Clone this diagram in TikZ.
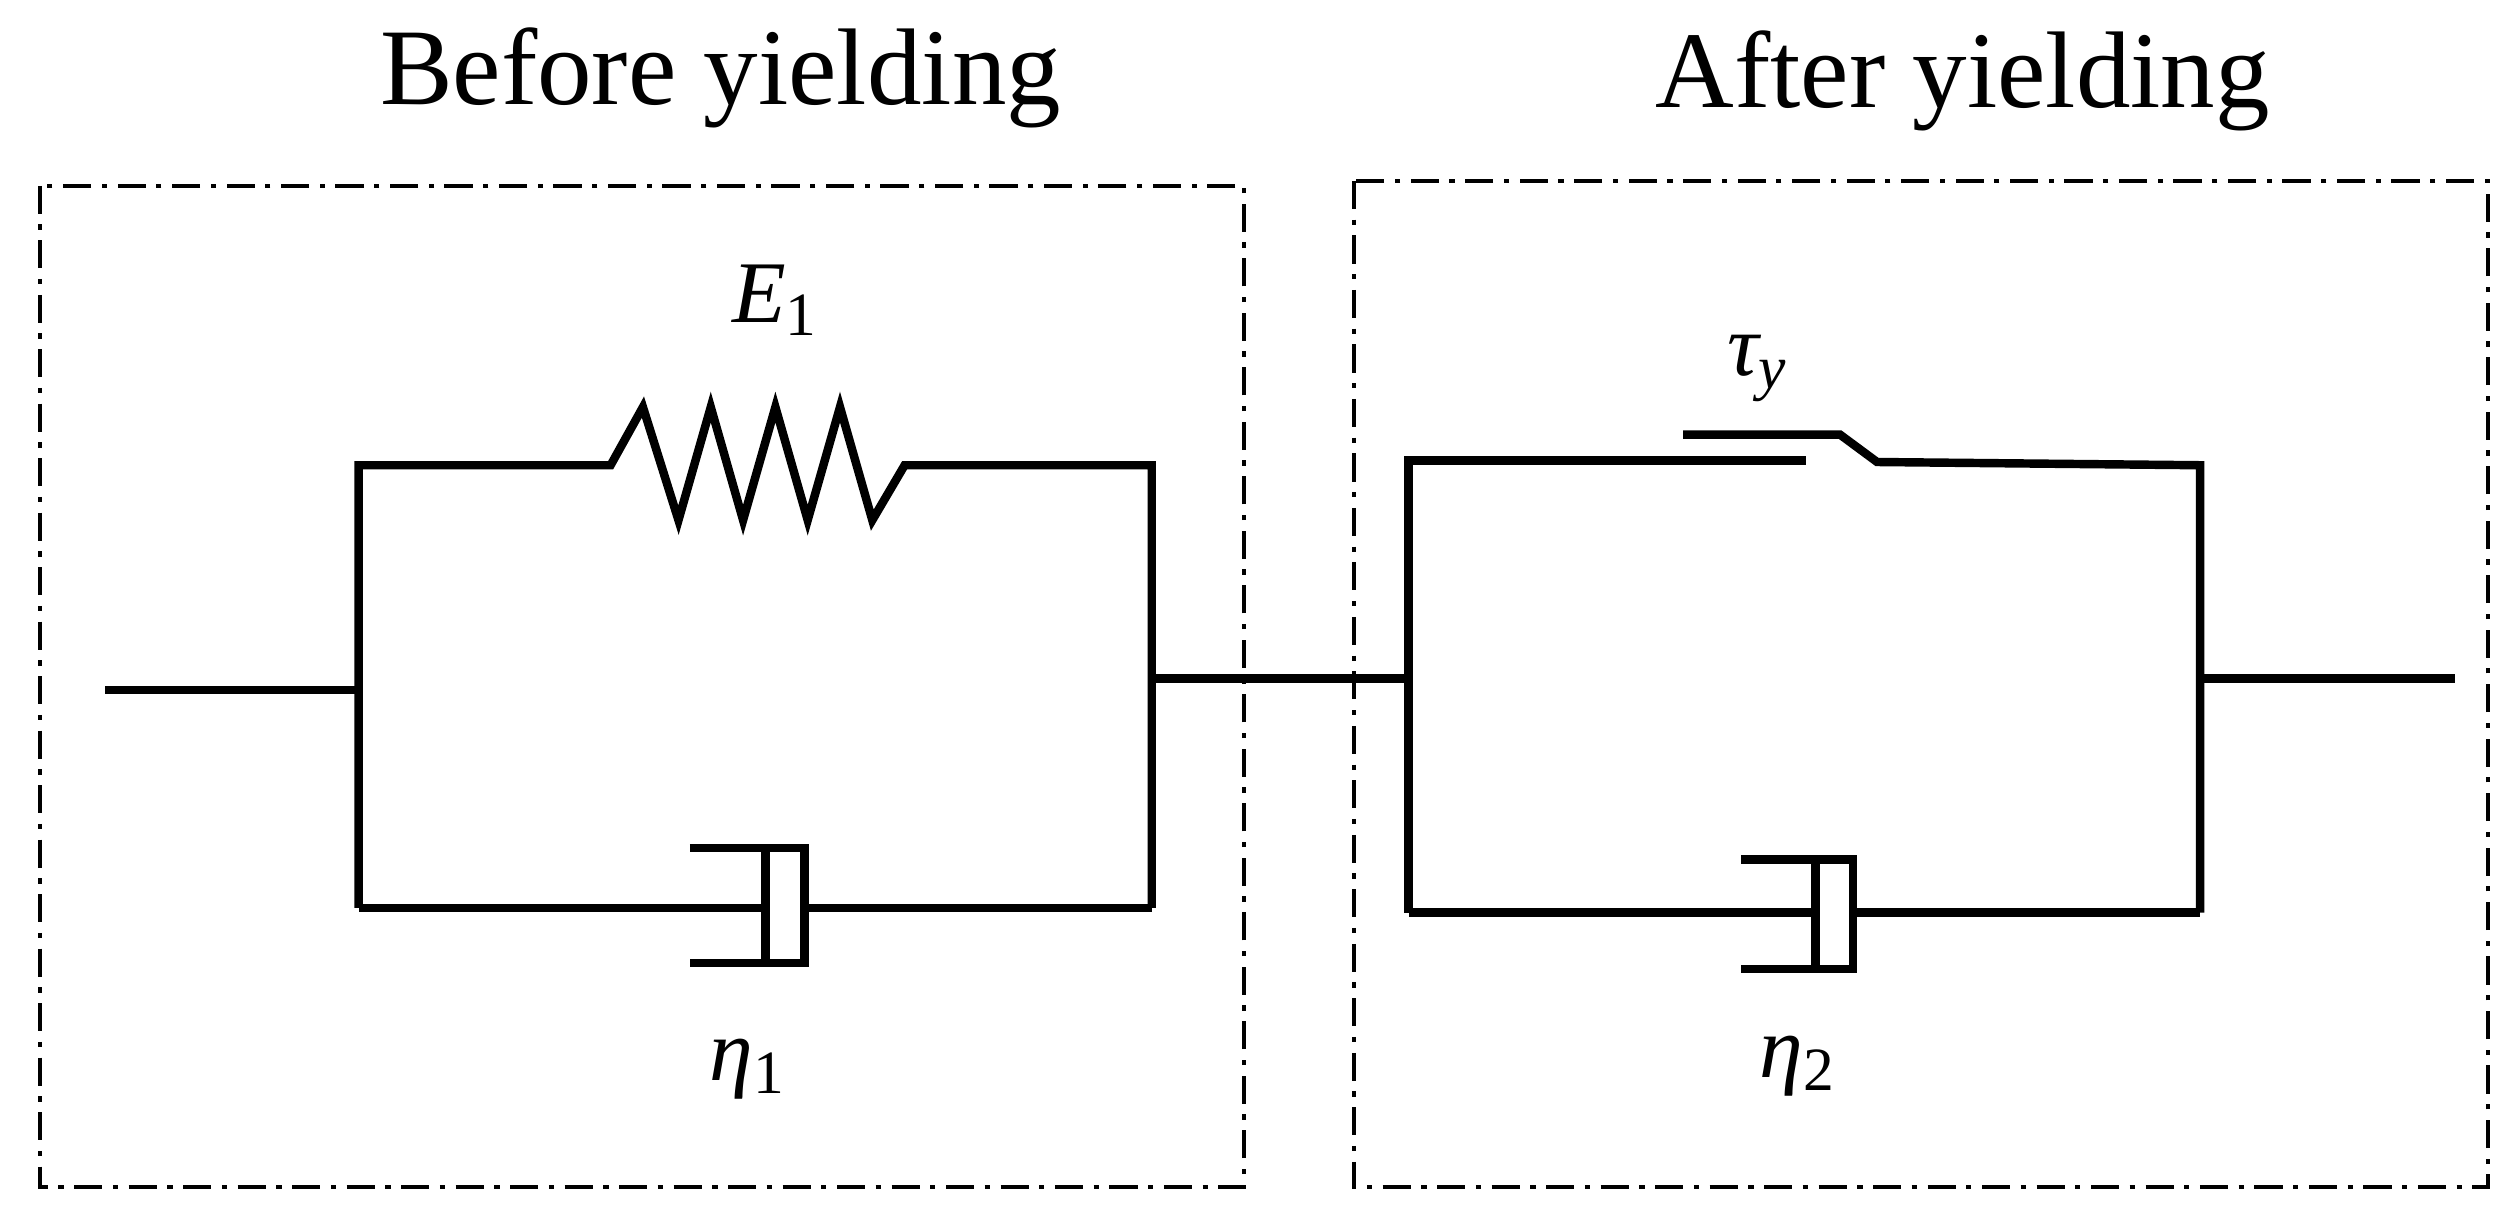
\documentclass[tikz,border=0pt]{standalone}
\usepackage{fontspec}
\setmainfont{Liberation Serif}
\usetikzlibrary{positioning, calc}

\begin{document}
\begin{tikzpicture}[x=0.1615mm, y=-0.1615mm, wire/.style={line width=2.4pt}, box/.style={line width=1.2pt, dash pattern=on 8pt off 3pt on 1.5pt off 3pt}, title/.style={font=\fontsize{31}{34}\selectfont}, lbl/.style={font=\fontsize{25}{28}\selectfont\itshape}]
        \useasboundingbox (0,0) rectangle (1560,750);
        % frames and titles
        \draw[box] (25,115) rectangle (770,735);
        \draw[box] (838,112) rectangle (1540,735);
        \node[title] (before) at (446,48) {Before yielding};
        \node[title] (after) at (1215,50) {After yielding};

        % before yielding: spring parallel to dashpot
        \coordinate (in) at (65,427);
        \coordinate (lt) at (222,288);
        \coordinate (lb) at (222,562);
        \coordinate (rt) at (713,288);
        \coordinate (rb) at (713,562);
        \draw[wire] (in) -- (lb |- in);
        \draw[wire] (lb) -- (lt) -- (378,288) -- (398,252) -- (420,322) -- (440,252) -- (460,322) -- (480,252) -- (500,322) -- (520,252) -- (540,322) -- (560,288) -- (rt) -- (rb);
        \draw[wire] (lb) -- (474,562);
        \draw[wire] (427,525) -- (498,525) -- (498,596) -- (427,596);
        \draw[wire] (474,525) -- (474,596);
        \draw[wire] (498,562) -- (rb);
        \node[lbl] (E1) at (480,186) {E\textsubscript{\upshape 1}};
        \node[lbl] (eta1) at (463,662) {η\textsubscript{\upshape 1}};

        % after yielding: slider parallel to dashpot
        \coordinate (lt2) at (872,285);
        \coordinate (lb2) at (872,565);
        \coordinate (rt2) at (1362,288);
        \coordinate (rb2) at (1362,565);
        \coordinate (out) at (1520,420);
        \draw[wire] (713,420) -- (lb2 |- 713,420);
        \draw[wire] (rt2 |- out) -- (out);
        \draw[wire] (lb2) -- (lt2) -- (1118,285);
        \draw[wire] (1042,269) -- (1139,269) -- (1162,286) -- (rt2) -- (rb2);
        \draw[wire] (lb2) -- (1124,565);
        \draw[wire] (1078,532) -- (1147,532) -- (1147,600) -- (1078,600);
        \draw[wire] (1124,532) -- (1124,600);
        \draw[wire] (1147,565) -- (rb2);
        \node[lbl] (tauy) at (1088,228) {τ\textsubscript{y}};
        \node[lbl] (eta2) at (1113,660) {η\textsubscript{\upshape 2}};
    \end{tikzpicture}
\end{document}
